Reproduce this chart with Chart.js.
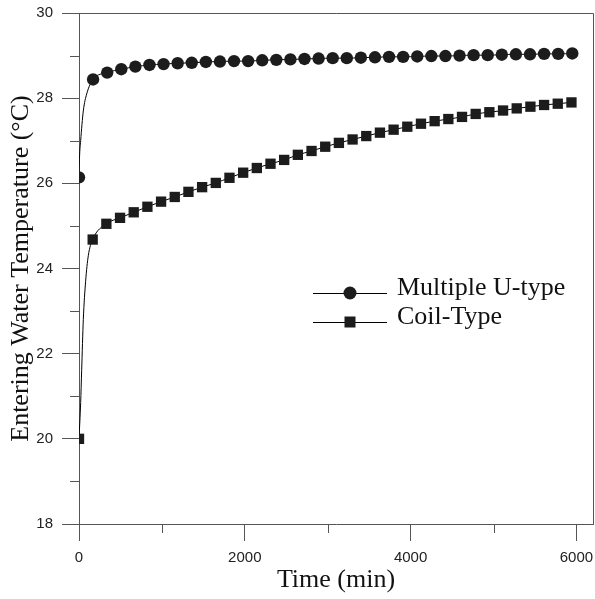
<!DOCTYPE html>
<html>
<head>
<meta charset="utf-8">
<script src="https://cdn.jsdelivr.net/npm/chart.js@4/dist/chart.umd.min.js"></script>
<style>
  html, body { margin: 0; padding: 0; background: #ffffff; }
  #wrap { width: 595px; height: 599px; }
</style>
</head>
<body>
<div id="wrap"><canvas id="c" width="595" height="599"></canvas></div>
<script>
// Multiple U-type: marked readings (min, °C)
const uTime = [0, 170, 340, 510, 680, 850, 1020, 1190, 1360, 1530, 1700, 1870, 2040, 2210, 2380, 2550, 2720, 2890,
  3060, 3230, 3400, 3570, 3740, 3910, 4080, 4250, 4420, 4590, 4760, 4930, 5100, 5270, 5440, 5610, 5780, 5950];
const uTemp = [26.14, 28.44, 28.60, 28.68, 28.74, 28.78, 28.80, 28.82, 28.83, 28.85, 28.86, 28.87, 28.87, 28.89, 28.90, 28.91, 28.92, 28.93,
  28.94, 28.94, 28.95, 28.96, 28.97, 28.97, 28.98, 28.99, 28.99, 29.00, 29.01, 29.01, 29.02, 29.03, 29.03, 29.04, 29.04, 29.05];
// Multiple U-type: unmarked start-up readings
const uCurveTime = [6, 20, 52, 93];
const uCurveTemp = [26.6, 27.0, 27.7, 28.1];

// Coil-Type: marked readings (min, °C)
const coilTime = [0, 165, 330, 495, 660, 825, 990, 1155, 1320, 1485, 1650, 1815, 1980, 2145, 2310, 2475, 2640, 2805, 2970,
  3135, 3300, 3465, 3630, 3795, 3960, 4125, 4290, 4455, 4620, 4785, 4950, 5115, 5280, 5445, 5610, 5775, 5940];
const coilTemp = [20.00, 24.68, 25.05, 25.19, 25.32, 25.45, 25.57, 25.68, 25.80, 25.91, 26.01, 26.13, 26.25, 26.36, 26.46, 26.55, 26.67, 26.76, 26.86,
  26.95, 27.03, 27.11, 27.19, 27.26, 27.33, 27.40, 27.46, 27.51, 27.56, 27.63, 27.67, 27.71, 27.76, 27.80, 27.84, 27.87, 27.90];
// Coil-Type: unmarked start-up readings
const coilCurveTime = [20, 32, 52, 80, 112];
const coilCurveTemp = [20.85, 21.6, 22.8, 23.7, 24.3];

const seriesNames = ['Multiple U-type', 'Coil-Type'];
const xTickValues = [0, 2000, 4000, 6000];
const xMinorValues = [1000, 3000, 5000];
const yTickValues = [18, 20, 22, 24, 26, 28, 30];
const yMinorValues = [19, 21, 23, 25, 27, 29];

const SERIF = "'Liberation Serif', 'Times New Roman', serif";
const SANS = "'Liberation Sans', Arial, sans-serif";
const AXIS_COLOR = '#555555';
const MARK_COLOR = '#1c1c1c';

function mergePoints(t, v, ct, cv) {
  const pts = t.map((x, i) => ({ x: x, y: v[i], marker: true }))
    .concat(ct.map((x, i) => ({ x: x, y: cv[i], marker: false })));
  pts.sort((a, b) => a.x - b.x);
  return pts;
}

// Box frame (top and right edges) plus the short minor ticks
const framePlugin = {
  id: 'frameAndMinorTicks',
  afterDraw(chart) {
    const { ctx, chartArea: a, scales } = chart;
    ctx.save();
    ctx.strokeStyle = AXIS_COLOR;
    ctx.lineWidth = 1;
    ctx.beginPath();
    ctx.moveTo(a.left, a.top + 0.5);
    ctx.lineTo(a.right + 0.5, a.top + 0.5);
    ctx.lineTo(a.right + 0.5, a.bottom);
    yMinorValues.forEach(v => {
      const y = Math.round(scales.y.getPixelForValue(v)) + 0.5;
      ctx.moveTo(a.left - 9, y);
      ctx.lineTo(a.left, y);
    });
    xMinorValues.forEach(v => {
      const x = Math.round(scales.x.getPixelForValue(v)) + 0.5;
      ctx.moveTo(x, a.bottom);
      ctx.lineTo(x, a.bottom + 9);
    });
    ctx.stroke();
    ctx.restore();
  }
};

// Legend inside the plot: line with the marker in its middle, then the name
const legendPlugin = {
  id: 'insideLegend',
  afterDatasetsDraw(chart, args, opts) {
    const { ctx } = chart;
    ctx.save();
    chart.data.datasets.forEach((ds, i) => {
      const y = opts.rows[i];
      ctx.strokeStyle = '#000000';
      ctx.lineWidth = 1;
      ctx.beginPath();
      ctx.moveTo(opts.lineStart, y + 0.5);
      ctx.lineTo(opts.lineEnd, y + 0.5);
      ctx.stroke();
      ctx.fillStyle = MARK_COLOR;
      const mx = (opts.lineStart + opts.lineEnd) / 2;
      if (ds.pointStyle === 'circle') {
        ctx.beginPath();
        ctx.arc(mx, y, 6.5, 0, Math.PI * 2);
        ctx.fill();
      } else {
        ctx.fillRect(mx - 5.5, y - 5.5, 11, 11);
      }
      ctx.fillStyle = '#111111';
      ctx.font = '26px ' + SERIF;
      ctx.textBaseline = 'alphabetic';
      ctx.textAlign = 'left';
      ctx.fillText(ds.label, opts.textX, opts.baselines[i]);
    });
    ctx.restore();
  }
};

const markerRadius = (r) => (c) => (c.raw && c.raw.marker ? r : 0);

new Chart(document.getElementById('c'), {
  type: 'line',
  data: {
    datasets: [
      {
        label: seriesNames[0],
        data: mergePoints(uTime, uTemp, uCurveTime, uCurveTemp),
        borderColor: '#000000',
        borderWidth: 1,
        backgroundColor: MARK_COLOR,
        pointBackgroundColor: MARK_COLOR,
        pointBorderColor: MARK_COLOR,
        pointBorderWidth: 0,
        pointStyle: 'circle',
        pointRadius: markerRadius(6.2),
        cubicInterpolationMode: 'monotone',
        fill: false
      },
      {
        label: seriesNames[1],
        data: mergePoints(coilTime, coilTemp, coilCurveTime, coilCurveTemp),
        borderColor: '#000000',
        borderWidth: 1,
        backgroundColor: MARK_COLOR,
        pointBackgroundColor: MARK_COLOR,
        pointBorderColor: MARK_COLOR,
        pointBorderWidth: 0,
        pointStyle: 'rect',
        pointRadius: markerRadius(7.3),
        cubicInterpolationMode: 'monotone',
        fill: false
      }
    ]
  },
  options: {
    responsive: false,
    animation: false,
    events: [],
    layout: { autoPadding: false, padding: { top: 13, right: 2, left: 0, bottom: 0 } },
    plugins: {
      legend: { display: false },
      tooltip: { enabled: false },
      insideLegend: { lineStart: 313, lineEnd: 387, rows: [293, 322], baselines: [295, 324], textX: 397 }
    },
    scales: {
      x: {
        type: 'linear',
        min: 0,
        max: 6200,
        afterFit(scale) {
          scale.height = 75;
          scale.paddingLeft = 0;
          scale.paddingRight = 0;
        },
        afterBuildTicks(scale) { scale.ticks = xTickValues.map(v => ({ value: v })); },
        grid: { display: true, drawOnChartArea: false, drawTicks: true, tickLength: 17, color: AXIS_COLOR, tickColor: AXIS_COLOR },
        border: { display: true, color: AXIS_COLOR, width: 1 },
        ticks: {
          color: '#222222', font: { family: SANS, size: 15 }, padding: 8, maxRotation: 0, autoSkip: false,
          callback: (v) => String(v)
        },
        title: { display: true, text: 'Time (min)', color: '#111111', font: { family: SERIF, size: 26 }, padding: { top: 0, bottom: 3 } }
      },
      y: {
        type: 'linear',
        min: 18,
        max: 30,
        afterFit(scale) {
          scale.width = 79;
          scale.paddingTop = 0;
          scale.paddingBottom = 0;
        },
        afterBuildTicks(scale) { scale.ticks = yTickValues.map(v => ({ value: v })); },
        grid: { display: true, drawOnChartArea: false, drawTicks: true, tickLength: 17, color: AXIS_COLOR, tickColor: AXIS_COLOR },
        border: { display: true, color: AXIS_COLOR, width: 1 },
        ticks: {
          color: '#222222', font: { family: SANS, size: 15 }, padding: 9, autoSkip: false,
          callback: (v) => String(v)
        },
        title: { display: true, text: 'Entering Water Temperature (\u00B0C)', color: '#111111', font: { family: SERIF, size: 26 }, padding: { top: 6, bottom: 0 } }
      }
    }
  },
  plugins: [framePlugin, legendPlugin]
});
</script>
</body>
</html>
